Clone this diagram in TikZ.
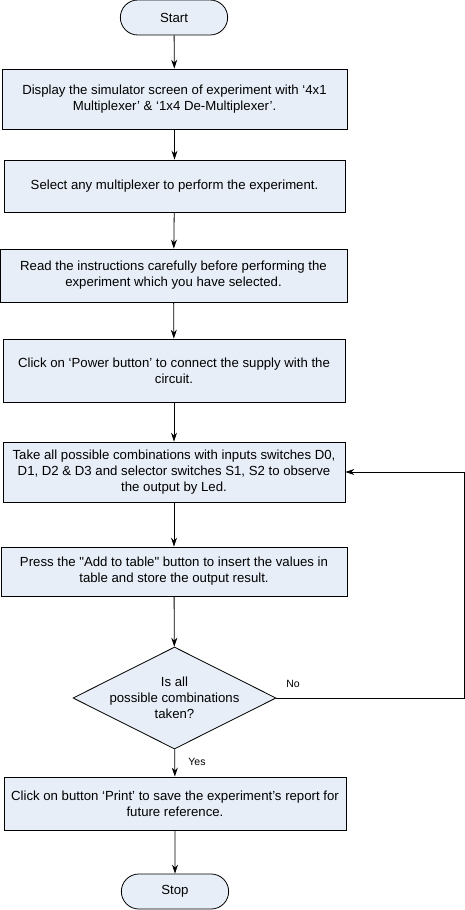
\documentclass[tikz,border=0pt]{standalone}
\usepackage{fontspec}
\setmainfont{Liberation Sans}
\usepackage{tikz}
\usetikzlibrary{arrows,arrows.meta,shapes,positioning}
\definecolor{boxfill}{RGB}{232,238,248}
\begin{document}
\begin{tikzpicture}[x=1pt,y=-1pt,
step box/.style={
rectangle,
draw,
fill=boxfill,
line width=0.8pt,
inner sep=0pt,
align=center,
font=\fontsize{13.2}{16}\selectfont
},
term/.style={
rounded rectangle,
draw,
fill=boxfill,
line width=0.8pt,
minimum width=114pt,
minimum height=35pt,
font=\fontsize{13.2}{16}\selectfont
},
decide/.style={
diamond,
draw,
fill=boxfill,
line width=0.8pt,
inner sep=0pt,
minimum width=203pt,
minimum height=102pt
},
to/.style={->,>={Stealth[length=9pt,width=6pt]},line width=0.8pt},
lbl/.style={font=\fontsize{10.5}{12}\selectfont},
]
\useasboundingbox (0,0) rectangle (465,910);
\node (start) [term] at (174,17.5) {Start};
\node (disp) [step box,minimum width=345pt,minimum height=60pt] at (174.5,99)
  {Display the simulator screen of experiment with ‘4x1\\Multiplexer’ \& ‘1x4 De-Multiplexer’.};
\node (sel) [step box,minimum width=341pt,minimum height=52pt] at (174.5,186)
  {Select any multiplexer to perform the experiment.};
\node (read) [step box,minimum width=347pt,minimum height=53pt] at (173.5,275.5)
  {Read the instructions carefully before performing the\\experiment which you have selected.};
\node (power) [step box,minimum width=342pt,minimum height=63pt] at (174,370.5)
  {Click on ‘Power button’ to connect the supply with the\\circuit.};
\node (comb) [step box,minimum width=342pt,minimum height=60pt] at (174,472)
  {Take all possible combinations with inputs switches D0,\\D1, D2 \& D3 and selector switches S1, S2 to observe\\the output by Led.};
\node (add) [step box,minimum width=346pt,minimum height=49pt] at (174,571.5)
  {Press the \textquotedbl Add to table\textquotedbl{} button to insert the values in\\table and store the output result.};
\node (taken) [decide] at (174.5,698) {};
\node (takentext) [align=center,font=\fontsize{13.2}{16}\selectfont] at (taken) {Is all\\possible combinations\\taken?};
\node (print) [step box,minimum width=342pt,minimum height=53pt] at (175,803.5)
  {Click on button ‘Print’ to save the experiment’s report for\\future reference.};
\node (stop) [term] at (175,891.5) {Stop};
\coordinate (loop) at (464,698);
\draw[to] (start) -- (disp);
\draw[to] (disp) -- (sel);
\draw[to] (sel) -- (read);
\draw[to] (read) -- (power);
\draw[to] (power) -- (comb);
\draw[to] (comb) -- (add);
\draw[to] (add) -- (taken);
\draw[to] (taken) -- (print);
\draw[to] (print) -- (stop);
\draw[to] (taken.east) -- (loop) |- (comb.east);
\node (no) [lbl] at (293,684) {No};
\node (yes) [lbl] at (197,762) {Yes};
\end{tikzpicture}
\end{document}
